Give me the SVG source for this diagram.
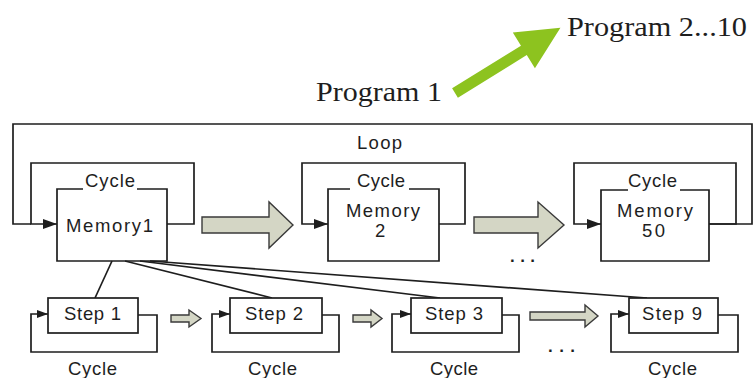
<svg xmlns="http://www.w3.org/2000/svg" width="753" height="378" viewBox="0 0 753 378">
<style>
.ln{fill:none;stroke:#1e1e1e;stroke-width:1.7}
.box{fill:#fff;stroke:#1e1e1e;stroke-width:1.7}
.t{font-family:"Liberation Sans",Arial,sans-serif;font-size:18.5px;fill:#1e1e1e}
.tp{font-family:"Liberation Serif","Times New Roman",serif;font-size:27px;fill:#1e1e1e}
.blk{fill:#d4d6c5;stroke:#3a3a3a;stroke-width:1.4;stroke-linejoin:miter}
.dots{font-family:"Liberation Sans",Arial,sans-serif;font-size:17px;font-weight:bold;fill:#1e1e1e}
</style>
<defs>
<marker id="ah" markerUnits="userSpaceOnUse" markerWidth="14" markerHeight="12" refX="14" refY="6" orient="auto">
<path d="M0,1 L14,6 L0,11 Z" fill="#1e1e1e"/>
</marker>
<marker id="ahs" markerUnits="userSpaceOnUse" markerWidth="11" markerHeight="10" refX="11" refY="5" orient="auto">
<path d="M0,1 L11,5 L0,9 Z" fill="#1e1e1e"/>
</marker>
</defs>
<rect width="753" height="378" fill="#fff"/>

<g id="program-labels">
<text class="tp" x="567" y="36" textLength="180" lengthAdjust="spacingAndGlyphs">Program 2...10</text>
<text class="tp" x="316" y="101" textLength="126" lengthAdjust="spacingAndGlyphs">Program 1</text>
<polygon id="green-arrow" transform="translate(455,93) rotate(-31.76)" points="0,-5.5 81,-5.5 81,-21 124,0 81,21 81,5.5 0,5.5" fill="#8dc31f"/>
</g>

<g id="connectors">
<path class="ln" d="M709,224 H752 V124 H13 V224 H31"/>
<path class="ln" d="M167,224 H194 V163 H31 V224 H57" marker-end="url(#ah)"/>
<path class="ln" d="M439,224 H465 V163 H302 V224 H328" marker-end="url(#ah)"/>
<path class="ln" d="M709,224 H736 V163 H574 V224 H601" marker-end="url(#ah)"/>
<path class="ln" d="M138,315 H157 V352 H31 V314 H48" marker-end="url(#ahs)"/>
<path class="ln" d="M322,315 H339 V352 H212 V314 H230" marker-end="url(#ahs)"/>
<path class="ln" d="M502,315 H519 V352 H392 V314 H411" marker-end="url(#ahs)"/>
<path class="ln" d="M718,315 H738 V352 H611 V314 H629" marker-end="url(#ahs)"/>
<line class="ln" x1="112" y1="261" x2="95" y2="298"/>
<line class="ln" x1="125" y1="261" x2="272" y2="298"/>
<line class="ln" x1="140" y1="261" x2="440" y2="298"/>
<line class="ln" x1="150" y1="261" x2="647" y2="298"/>
<polygon class="blk" points="202,217 269,217 269,202 293,225 269,248 269,233 202,233"/>
<polygon class="blk" points="474,217 538,217 538,202 564,225 538,248 538,233 474,233"/>
<polygon class="blk" points="171,315 189,315 189,310 201,318.5 189,327 189,322 171,322"/>
<polygon class="blk" points="353,315 371,315 371,310 382,318.5 371,327 371,322 353,322"/>
<polygon class="blk" points="530,312 585,312 585,305 598,316 585,327 585,320 530,320"/>
<text class="t" x="357" y="149" textLength="45" lengthAdjust="spacing">Loop</text>
<text class="dots" x="510" y="262" textLength="25" lengthAdjust="spacing">...</text>
<text class="dots" x="548" y="352" textLength="27" lengthAdjust="spacing">...</text>
</g>

<g id="memory1">
<path class="ln" d="M83,189 H57 V261 H167 V189 H137"/>
<text class="t" x="85" y="187" textLength="50" lengthAdjust="spacing">Cycle</text>
<text class="t" x="66" y="232" textLength="87" lengthAdjust="spacing">Memory1</text>
</g>

<g id="memory2">
<path class="ln" d="M350,189 H328 V261 H439 V189 H409"/>
<text class="t" x="357" y="187" textLength="48" lengthAdjust="spacing">Cycle</text>
<text class="t" x="346" y="217" textLength="74" lengthAdjust="spacing">Memory</text>
<text class="t" x="375" y="237">2</text>
</g>

<g id="memory50">
<path class="ln" d="M628,190 H601 V261 H709 V190 H680"/>
<text class="t" x="628" y="187" textLength="49" lengthAdjust="spacing">Cycle</text>
<text class="t" x="617" y="217" textLength="76" lengthAdjust="spacing">Memory</text>
<text class="t" x="642" y="237" textLength="23" lengthAdjust="spacing">50</text>
</g>

<g id="step1">
<rect class="box" x="48" y="298" width="90" height="35"/>
<text class="t" x="64" y="320" textLength="57" lengthAdjust="spacing">Step 1</text>
<text class="t" x="68" y="375" textLength="49" lengthAdjust="spacing">Cycle</text>
</g>

<g id="step2">
<rect class="box" x="230" y="298" width="92" height="35"/>
<text class="t" x="245" y="320" textLength="58" lengthAdjust="spacing">Step 2</text>
<text class="t" x="248" y="375" textLength="49" lengthAdjust="spacing">Cycle</text>
</g>

<g id="step3">
<rect class="box" x="411" y="298" width="91" height="35"/>
<text class="t" x="425" y="320" textLength="58" lengthAdjust="spacing">Step 3</text>
<text class="t" x="430" y="375" textLength="48" lengthAdjust="spacing">Cycle</text>
</g>

<g id="step9">
<rect class="box" x="629" y="298" width="89" height="35"/>
<text class="t" x="642" y="320" textLength="60" lengthAdjust="spacing">Step 9</text>
<text class="t" x="648" y="375" textLength="49" lengthAdjust="spacing">Cycle</text>
</g>
</svg>
